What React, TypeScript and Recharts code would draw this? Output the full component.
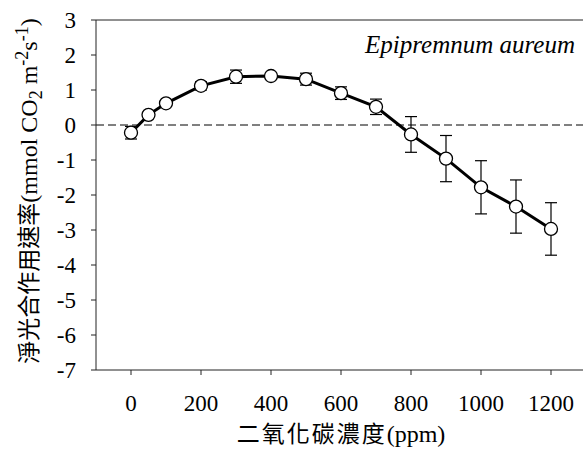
import React from 'react';
import { LineChart, Line, XAxis, YAxis, ErrorBar, ReferenceLine } from 'recharts';

// CO2 concentration (ppm)
const co2 = [0, 50, 100, 200, 300, 400, 500, 600, 700, 800, 900, 1000, 1100, 1200];
// net photosynthesis rate
const rate = [-0.22, 0.29, 0.62, 1.12, 1.38, 1.4, 1.31, 0.91, 0.52, -0.27, -0.96, -1.78, -2.33, -2.97];
// standard error
const se = [0.18, 0.05, 0.05, 0.12, 0.19, 0.06, 0.17, 0.18, 0.22, 0.51, 0.66, 0.76, 0.76, 0.75];

const xTicks = [0, 200, 400, 600, 800, 1000, 1200];
const yTicks = [3, 2, 1, 0, -1, -2, -3, -4, -5, -6, -7];

const data = co2.map((c, i) => ({ co2: c, rate: rate[i], se: se[i] }));

const SERIF = 'Liberation Serif';
const CJK = 'Noto Sans CJK TC';

const XTick = (props: any) => {
  const { x, y, payload } = props;
  return (
    <text x={x} y={y + 34} textAnchor="middle" fontFamily={SERIF} fontSize={23} fill="#000">
      {payload.value}
    </text>
  );
};

const YTick = (props: any) => {
  const { x, y, payload } = props;
  return (
    <text x={x - 13} y={y + 8} textAnchor="end" fontFamily={SERIF} fontSize={23} fill="#000">
      {payload.value}
    </text>
  );
};

const YLabel = () => (
  <text transform="translate(37,191) rotate(-90)" textAnchor="middle" fontFamily={SERIF} fontSize={24} fill="#000">
    <tspan fontFamily={CJK} fontSize={23}>淨光合作用速率</tspan>
    <tspan>(mmol CO</tspan>
    <tspan fontSize={18} dy={5}>2</tspan>
    <tspan dy={-5}> m</tspan>
    <tspan fontSize={18} dy={-9}>-2</tspan>
    <tspan dy={9}>s</tspan>
    <tspan fontSize={18} dy={-9}>-1</tspan>
    <tspan dy={9}>)</tspan>
  </text>
);

const XLabel = () => (
  <text x={341} y={442} textAnchor="middle" fontFamily={SERIF} fontSize={24} fill="#000">
    <tspan fontFamily={CJK} fontSize={23} letterSpacing={2}>二氧化碳濃度</tspan>
    <tspan>(ppm)</tspan>
  </text>
);

const App: React.FC = () => {
  return (
    <div style={{ position: 'absolute', left: 0, top: 0, width: 583, height: 455, overflow: 'hidden', background: '#fff' }}>
      <LineChart width={600} height={455} data={data} margin={{ top: 20, right: 14, bottom: 0, left: 0 }}>
        <XAxis
          dataKey="co2"
          type="number"
          domain={[-100, 1300]}
          ticks={xTicks}
          height={85}
          tickSize={5}
          stroke="#222"
          tick={<XTick />}
        />
        <YAxis
          type="number"
          domain={[-7, 3]}
          ticks={yTicks}
          width={96}
          tickSize={5}
          stroke="#222"
          tick={<YTick />}
        />
        <ReferenceLine y={3} stroke="#222" strokeWidth={1} />
        <ReferenceLine y={0} stroke="#000" strokeWidth={1} strokeDasharray="8 4" />
        <Line
          dataKey="rate"
          stroke="#000"
          strokeWidth={3}
          isAnimationActive={false}
          dot={{ r: 6.5, fill: '#fff', stroke: '#000', strokeWidth: 1.3 }}
          activeDot={false}
        >
          <ErrorBar dataKey="se" direction="y" width={6} stroke="#000" strokeWidth={1.2} />
        </Line>
        <text x={575} y={53} textAnchor="end" fontFamily={SERIF} fontStyle="italic" fontSize={25} fill="#000">
          Epipremnum aureum
        </text>
        <XLabel />
        <YLabel />
      </LineChart>
    </div>
  );
};

export default App;
